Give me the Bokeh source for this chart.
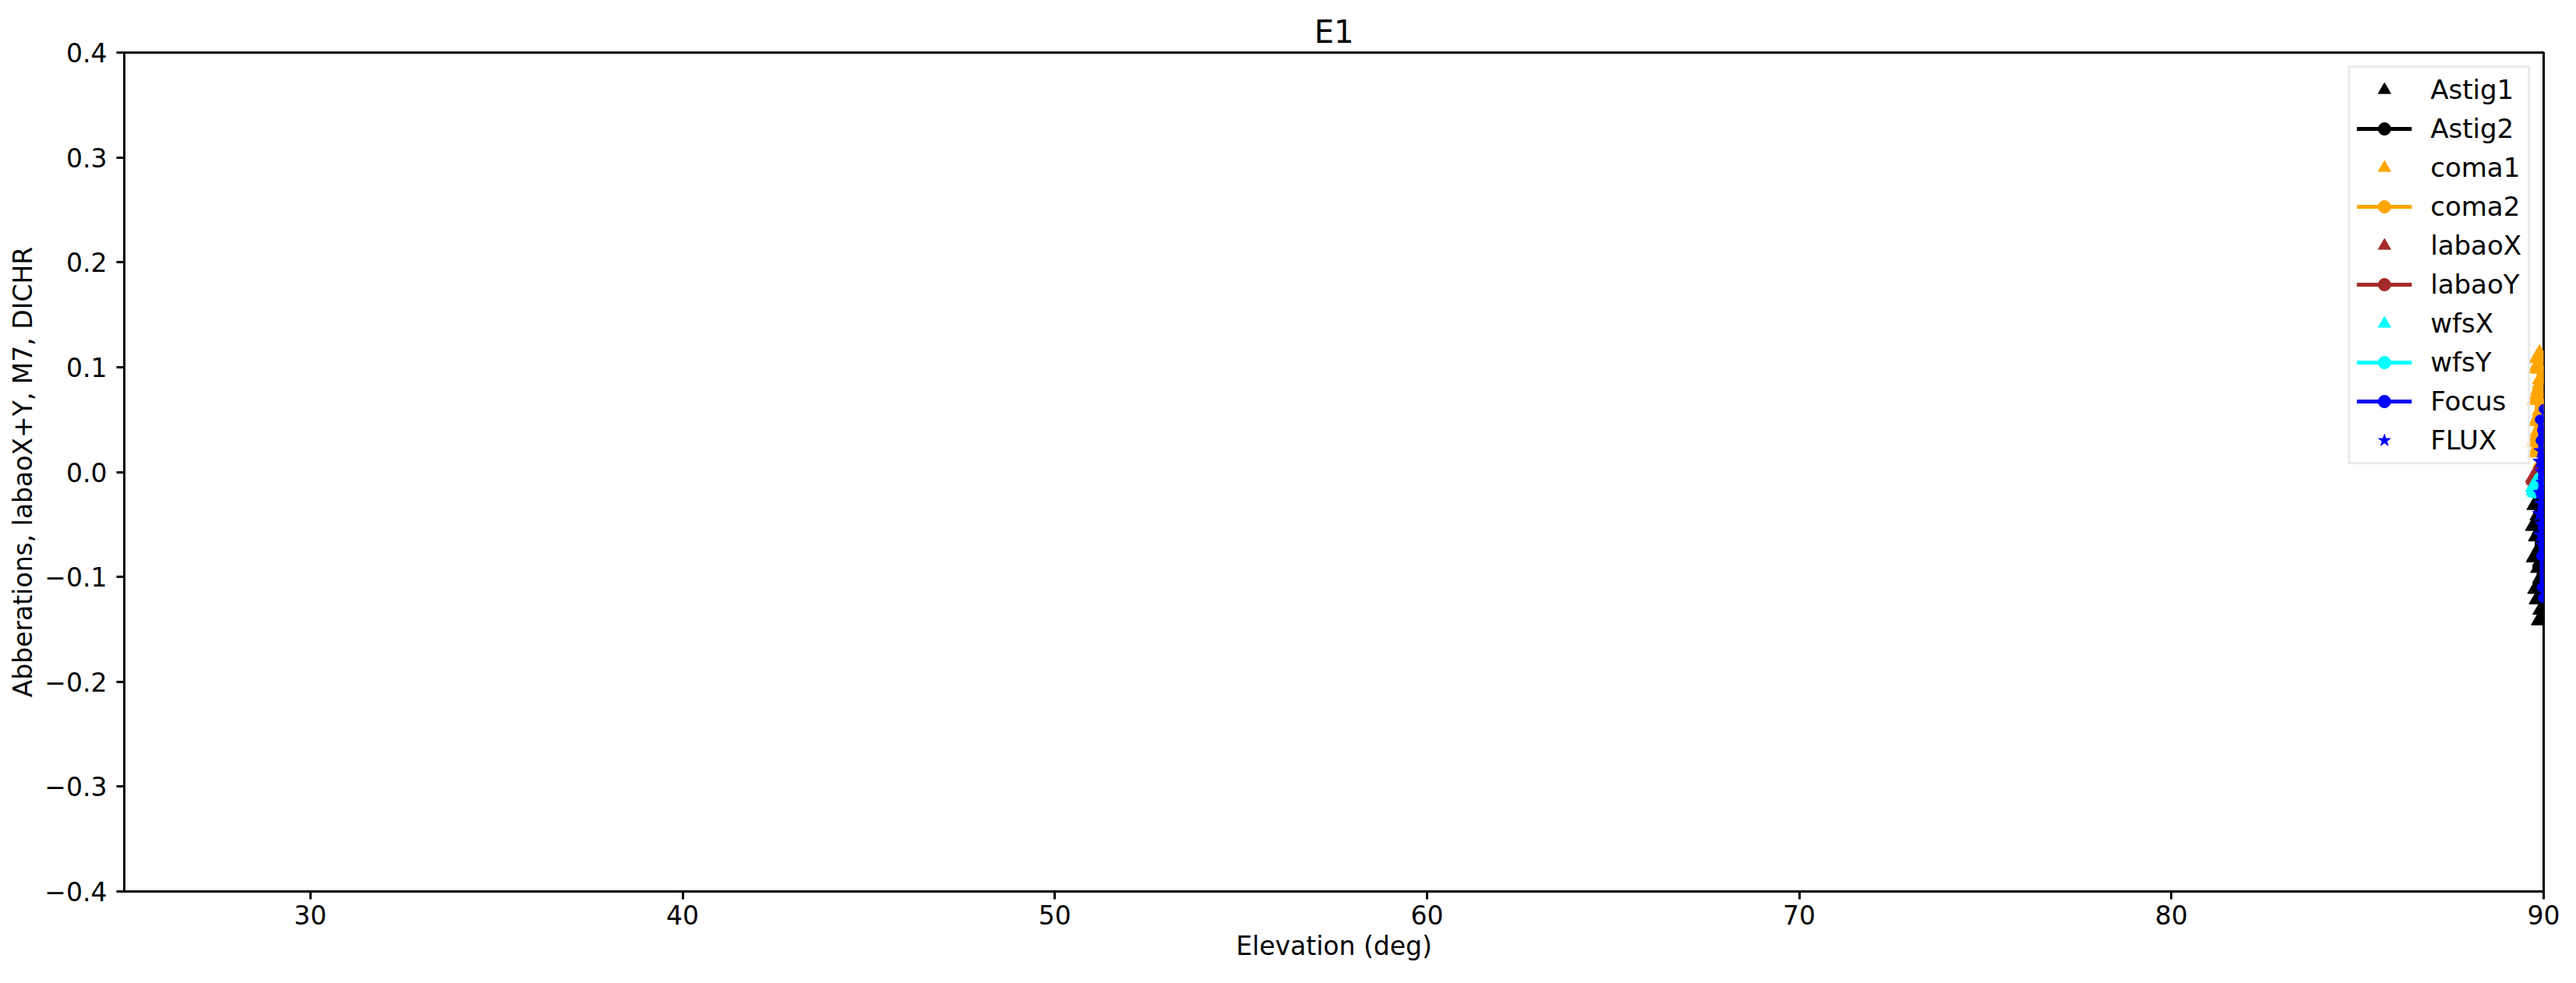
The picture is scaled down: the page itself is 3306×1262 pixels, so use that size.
from bokeh.plotting import figure
from bokeh.models import FixedTicker, CustomJSTickFormatter, Range1d
from bokeh.embed import file_html
from bokeh.resources import INLINE

# ---- data ----
elevation = [89.79, 89.81, 89.83, 89.85, 89.87, 89.89, 89.91, 89.93, 89.95, 89.97, 89.98, 89.99]
focus_elevation = [89.90, 89.91, 89.92, 89.93, 89.94, 89.95, 89.96, 89.97, 89.98, 89.99, 89.995, 90.0]

astig1 = [-0.05, -0.08, -0.03, -0.11, -0.06, -0.12, -0.04, -0.09, -0.14, -0.07, -0.10, -0.13]
astig2 = [-0.03, -0.06, -0.09, -0.04, -0.11, -0.07, -0.05, -0.10, -0.08, -0.12, -0.06, -0.04]
coma1 = [0.03, 0.07, 0.02, 0.10, 0.05, 0.11, 0.04, 0.08, 0.00, 0.06, 0.09, 0.01]
coma2 = [0.02, 0.05, 0.08, 0.04, 0.10, 0.06, 0.03, 0.09, 0.01, 0.07, 0.05, 0.00]
labaoX = [-0.004, -0.006, -0.003, -0.008, -0.005, -0.007, -0.004, -0.006, -0.009, -0.005, -0.003, -0.006]
labaoY = [-0.002, -0.004, -0.006, -0.003, -0.005, -0.002, -0.004, -0.007, -0.003, -0.005, -0.004, -0.002]
wfsX = [-0.013, -0.016, -0.012, -0.018, -0.014, -0.017, -0.013, -0.015, -0.019, -0.014, -0.016, -0.013]
wfsY = [-0.010, -0.012, -0.015, -0.011, -0.013, -0.016, -0.012, -0.014, -0.011, -0.013, -0.015, -0.012]
focus = [0.05, -0.02, 0.03, -0.08, 0.01, -0.11, 0.04, -0.05, -0.12, 0.00, -0.07, 0.06]
flux = [-0.04, 0.01, -0.02, -0.06, 0.02, -0.03, -0.05, 0.00, -0.01, -0.07, 0.01, -0.02]

x_ticks = [30, 40, 50, 60, 70, 80, 90]
y_ticks = [-0.4, -0.3, -0.2, -0.1, 0.0, 0.1, 0.2, 0.3, 0.4]

FONT = "DejaVu Sans"
FS = "33px"

p = figure(width=3290, height=1246, output_backend="svg", toolbar_location=None,
           x_range=Range1d(25, 90), y_range=Range1d(-0.4, 0.4),
           title="E1", x_axis_label="Elevation (deg)",
           y_axis_label="Abberations, labaoX+Y, M7, DICHR")
p.min_border_left = 159
p.min_border_right = 26
p.min_border_top = 67
p.min_border_bottom = 102

p.title.align = "center"
p.title.text_font = FONT
p.title.text_font_size = "40px"
p.title.text_font_style = "normal"
p.title.text_color = "black"
p.title.standoff = 7

p.xgrid.visible = False
p.ygrid.visible = False
p.outline_line_color = "black"
p.outline_line_width = 3
p.outline_line_alpha = 1.0

p.xaxis.ticker = FixedTicker(ticks=x_ticks)
p.yaxis.ticker = FixedTicker(ticks=y_ticks)
p.yaxis.formatter = CustomJSTickFormatter(code="""
    var s = tick.toFixed(1);
    if (s === "-0.0") { s = "0.0"; }
    return s.replace("-", "\u2212");
""")
for ax in (p.xaxis[0], p.yaxis[0]):
    ax.axis_line_color = "black"
    ax.axis_line_width = 3
    ax.major_tick_line_width = 3
    ax.major_tick_out = 10
    ax.major_tick_in = 0
    ax.minor_tick_line_color = None
    ax.major_label_text_font = FONT
    ax.major_label_text_font_size = FS
    ax.major_label_text_color = "black"
    ax.axis_label_text_font = FONT
    ax.axis_label_text_font_size = FS
    ax.axis_label_text_font_style = "normal"
    ax.axis_label_text_color = "black"
p.xaxis[0].major_label_standoff = 7
p.yaxis[0].major_label_standoff = 12
p.xaxis[0].axis_label_standoff = 5
p.yaxis[0].axis_label_standoff = 5

BLACK = "#000000"
ORANGE = "#FFA500"
BROWN = "#A52A2A"
CYAN = "#00FFFF"
BLUE = "#0000FF"

tri_size = 27
dot_size = 12
lw = 5

p.scatter(elevation, astig1, marker="triangle", size=tri_size, color=BLACK, legend_label="Astig1")
p.line(elevation, astig2, line_color=BLACK, line_width=lw, legend_label="Astig2")
p.scatter(elevation, astig2, marker="circle", size=dot_size, color=BLACK, legend_label="Astig2")
p.scatter(elevation, coma1, marker="triangle", size=tri_size, color=ORANGE, legend_label="coma1")
p.line(elevation, coma2, line_color=ORANGE, line_width=lw, legend_label="coma2")
p.scatter(elevation, coma2, marker="circle", size=dot_size, color=ORANGE, legend_label="coma2")
p.scatter(elevation, labaoX, marker="triangle", size=tri_size, color=BROWN, legend_label="labaoX")
p.line(elevation, labaoY, line_color=BROWN, line_width=lw, legend_label="labaoY")
p.scatter(elevation, labaoY, marker="circle", size=dot_size, color=BROWN, legend_label="labaoY")
p.scatter(elevation, wfsX, marker="triangle", size=tri_size, color=CYAN, legend_label="wfsX")
p.line(elevation, wfsY, line_color=CYAN, line_width=lw, legend_label="wfsY")
p.scatter(elevation, wfsY, marker="circle", size=dot_size, color=CYAN, legend_label="wfsY")
p.line(focus_elevation, focus, line_color=BLUE, line_width=lw, legend_label="Focus")
p.scatter(focus_elevation, focus, marker="circle", size=dot_size, color=BLUE, legend_label="Focus")
p.scatter(focus_elevation, flux, marker="star", size=20, color=BLUE, legend_label="FLUX")

lg = p.legend[0]
lg.location = "top_right"
lg.margin = 17
lg.padding = 8
lg.spacing = 10
lg.glyph_width = 71
lg.glyph_height = 40
lg.label_height = 40
lg.label_standoff = 24
lg.label_text_font = FONT
lg.label_text_font_size = "34px"
lg.label_text_color = "black"
lg.border_line_color = "#d6d6d6"
lg.border_line_width = 3
lg.background_fill_alpha = 0.8

open("out.html", "w").write(file_html(p, INLINE))
